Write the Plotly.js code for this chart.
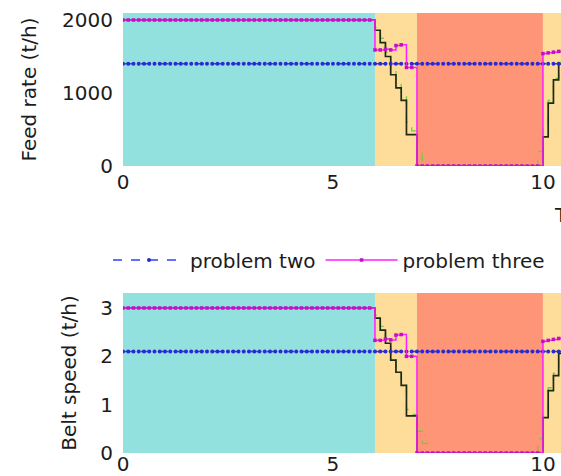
<!DOCTYPE html>
<html>
<head>
<meta charset="utf-8">
<script src="https://cdn.plot.ly/plotly-3.0.1.min.js"></script>
<style>html,body{margin:0;padding:0;background:#fff;}#chart{width:561px;height:476px;}</style>
</head>
<body>
<div id="chart"></div>
<script>
// time (h), 7.5-minute steps
var time = [0,0.125,0.25,0.375,0.5,0.625,0.75,0.875,
1,1.125,1.25,1.375,1.5,1.625,1.75,1.875,
2,2.125,2.25,2.375,2.5,2.625,2.75,2.875,
3,3.125,3.25,3.375,3.5,3.625,3.75,3.875,
4,4.125,4.25,4.375,4.5,4.625,4.75,4.875,
5,5.125,5.25,5.375,5.5,5.625,5.75,5.875,
6,6.125,6.25,6.375,6.5,6.625,6.75,6.875,
7,7.125,7.25,7.375,7.5,7.625,7.75,7.875,
8,8.125,8.25,8.375,8.5,8.625,8.75,8.875,
9,9.125,9.25,9.375,9.5,9.625,9.75,9.875,
10,10.125,10.25,10.375,10.5];

// Feed rate (t/h)
var feedOne = [2000,2000,2000,2000,2000,2000,2000,2000,
2000,2000,2000,2000,2000,2000,2000,2000,
2000,2000,2000,2000,2000,2000,2000,2000,
2000,2000,2000,2000,2000,2000,2000,2000,
2000,2000,2000,2000,2000,2000,2000,2000,
2000,2000,2000,2000,2000,2000,2000,2000,
1860,1690,1500,1250,1070,900,430,430,
0,0,0,0,0,0,0,0,
0,0,0,0,0,0,0,0,
0,0,0,0,0,0,0,0,
400,860,1180,1400,1500];
var feedTwo = [1400,1400,1400,1400,1400,1400,1400,1400,
1400,1400,1400,1400,1400,1400,1400,1400,
1400,1400,1400,1400,1400,1400,1400,1400,
1400,1400,1400,1400,1400,1400,1400,1400,
1400,1400,1400,1400,1400,1400,1400,1400,
1400,1400,1400,1400,1400,1400,1400,1400,
1400,1400,1400,1400,1400,1400,1400,1400,
1400,1400,1400,1400,1400,1400,1400,1400,
1400,1400,1400,1400,1400,1400,1400,1400,
1400,1400,1400,1400,1400,1400,1400,1400,
1400,1400,1400,1400,1400];
var feedThree = [2000,2000,2000,2000,2000,2000,2000,2000,
2000,2000,2000,2000,2000,2000,2000,2000,
2000,2000,2000,2000,2000,2000,2000,2000,
2000,2000,2000,2000,2000,2000,2000,2000,
2000,2000,2000,2000,2000,2000,2000,2000,
2000,2000,2000,2000,2000,2000,2000,2000,
1590,1590,1600,1590,1650,1660,1350,1350,
0,0,0,0,0,0,0,0,
0,0,0,0,0,0,0,0,
0,0,0,0,0,0,0,0,
1540,1550,1560,1570,1580];
var feedFour = [2000,2000,2000,2000,2000,2000,2000,2000,
2000,2000,2000,2000,2000,2000,2000,2000,
2000,2000,2000,2000,2000,2000,2000,2000,
2000,2000,2000,2000,2000,2000,2000,2000,
2000,2000,2000,2000,2000,2000,2000,2000,
2000,2000,2000,2000,2000,2000,2000,2000,
1900,1750,1560,1350,1150,950,600,480,
250,0,0,0,0,0,0,0,
0,0,0,0,0,0,0,0,
0,0,0,0,0,0,0,200,
500,900,1200,1420,1520];

// Belt speed
var speedOne = [3,3,3,3,3,3,3,3,
3,3,3,3,3,3,3,3,
3,3,3,3,3,3,3,3,
3,3,3,3,3,3,3,3,
3,3,3,3,3,3,3,3,
3,3,3,3,3,3,3,3,
2.79,2.54,2.27,1.92,1.67,1.40,0.77,0.77,
0,0,0,0,0,0,0,0,
0,0,0,0,0,0,0,0,
0,0,0,0,0,0,0,0,
0.73,1.29,1.6,2.06,2.2];
var speedTwo = [2.1,2.1,2.1,2.1,2.1,2.1,2.1,2.1,
2.1,2.1,2.1,2.1,2.1,2.1,2.1,2.1,
2.1,2.1,2.1,2.1,2.1,2.1,2.1,2.1,
2.1,2.1,2.1,2.1,2.1,2.1,2.1,2.1,
2.1,2.1,2.1,2.1,2.1,2.1,2.1,2.1,
2.1,2.1,2.1,2.1,2.1,2.1,2.1,2.1,
2.1,2.1,2.1,2.1,2.1,2.1,2.1,2.1,
2.1,2.1,2.1,2.1,2.1,2.1,2.1,2.1,
2.1,2.1,2.1,2.1,2.1,2.1,2.1,2.1,
2.1,2.1,2.1,2.1,2.1,2.1,2.1,2.1,
2.1,2.1,2.1,2.1,2.1];
var speedThree = [3,3,3,3,3,3,3,3,
3,3,3,3,3,3,3,3,
3,3,3,3,3,3,3,3,
3,3,3,3,3,3,3,3,
3,3,3,3,3,3,3,3,
3,3,3,3,3,3,3,3,
2.33,2.33,2.36,2.34,2.44,2.45,2.0,2.0,
0,0,0,0,0,0,0,0,
0,0,0,0,0,0,0,0,
0,0,0,0,0,0,0,0,
2.31,2.33,2.35,2.37,2.38];
var speedFour = [3,3,3,3,3,3,3,3,
3,3,3,3,3,3,3,3,
3,3,3,3,3,3,3,3,
3,3,3,3,3,3,3,3,
3,3,3,3,3,3,3,3,
3,3,3,3,3,3,3,3,
2.85,2.62,2.35,2.0,1.75,1.45,0.9,0.8,
0.45,0.2,0,0,0,0,0,0,
0,0,0,0,0,0,0,0,
0,0,0,0,0,0,0,0.3,
0.8,1.35,1.65,2.1,2.25];

// tariff periods (h)
var periodStart = [0, 6, 7, 10];
var periodEnd = [6, 7, 10, 12];
var periodType = ['valley', 'flat', 'peak', 'flat'];

var seriesNames = ['problem one', 'problem two', 'problem three', 'problem four'];
var feedTicks = [0, 1000, 2000];
var speedTicks = [0, 1, 2, 3];
var timeTicks = [0, 5, 10];

var periodColors = {valley: '#93e1df', flat: '#fedd9b', peak: '#fd9576'};
var FONT = 'DejaVu Sans';

var shapes = [];
for (var i = 0; i < periodStart.length; i++) {
  [['x', 'y domain'], ['x2', 'y2 domain']].forEach(function (r) {
    shapes.push({type: 'rect', xref: r[0], yref: r[1], x0: periodStart[i], x1: periodEnd[i], y0: 0, y1: 1,
      fillcolor: periodColors[periodType[i]], line: {width: 0}, layer: 'below'});
  });
}

function mk(y, idx, xa, ya, show) {
  var styles = [
    {line: {color: '#1e2a14', width: 1.7, shape: 'hv'}, mode: 'lines'},
    {line: {color: '#3340ff', width: 1.4, dash: 'dash', shape: 'hv'}, mode: 'lines+markers', marker: {symbol: 'circle', size: 4, color: '#2a2ad0'}},
    {line: {color: '#ff1eff', width: 1.5, shape: 'hv'}, mode: 'lines+markers', marker: {symbol: 'square', size: 3.5, color: '#c010c8'}},
    {line: {color: '#6fcf3a', width: 1.3, dash: 'dash', shape: 'hv'}, mode: 'lines'}
  ];
  var s = styles[idx];
  var t = {x: time, y: y, xaxis: xa, yaxis: ya, name: seriesNames[idx], mode: s.mode, line: s.line,
    showlegend: show, legendgroup: seriesNames[idx], hoverinfo: 'skip', cliponaxis: true};
  if (s.marker) t.marker = s.marker;
  return t;
}

var data = [
  mk(feedFour, 3, 'x', 'y', false),
  mk(feedOne, 0, 'x', 'y', false),
  mk(feedTwo, 1, 'x', 'y', true),
  mk(feedThree, 2, 'x', 'y', true),
  mk(speedFour, 3, 'x2', 'y2', false),
  mk(speedOne, 0, 'x2', 'y2', false),
  mk(speedTwo, 1, 'x2', 'y2', false),
  mk(speedThree, 2, 'x2', 'y2', false)
];

var W = 561, H = 476;
var axFont = {family: FONT, size: 20, color: '#1c1c1c'};
function xax(anchor, standoff) {
  return {domain: [123 / W, 1], range: [0, 10.43], anchor: anchor, tickvals: timeTicks, ticktext: timeTicks.map(String),
    showgrid: false, zeroline: false, showline: false, ticks: '', tickfont: axFont, ticklabelstandoff: standoff, automargin: false};
}
var layout = {
  width: W, height: H,
  margin: {l: 0, r: 0, t: 0, b: 0},
  paper_bgcolor: '#fff', plot_bgcolor: '#fff',
  font: {family: FONT, size: 20, color: '#1c1c1c'},
  xaxis: xax('y', 2),
  xaxis2: xax('x2' === 'x2' ? 'y2' : 'y2', -3),
  yaxis: {domain: [1 - 166 / H, 1 - 13 / H], range: [0, 2096], anchor: 'x', tickvals: feedTicks, showgrid: false, zeroline: false,
    showline: false, ticks: '', tickfont: axFont, ticklabelstandoff: 9, automargin: false,
    title: {text: 'Feed rate (t/h)', font: axFont, standoff: 20}},
  yaxis2: {domain: [1 - 453 / H, 1 - 293 / H], range: [0, 3.31], anchor: 'x2', tickvals: speedTicks, showgrid: false, zeroline: false,
    showline: false, ticks: '', tickfont: axFont, ticklabelstandoff: 9, automargin: false,
    title: {text: 'Belt speed (t/h)', font: axFont, standoff: 18}},
  shapes: shapes,
  showlegend: true,
  legend: {orientation: 'h', x: 108 / W, xanchor: 'left', y: 1 - 260 / H, yanchor: 'middle', bgcolor: 'rgba(0,0,0,0)',
    font: {family: FONT, size: 20, color: '#1c1c1c'}, itemwidth: 72, traceorder: 'normal'},
  annotations: [{text: 'Time (h)', xref: 'paper', yref: 'paper', x: 552 / W, y: 1 - 215 / H, xanchor: 'left', yanchor: 'middle',
    showarrow: false, font: axFont}]
};

Plotly.newPlot('chart', data, layout, {staticPlot: true, displayModeBar: false});
</script>
</body>
</html>
